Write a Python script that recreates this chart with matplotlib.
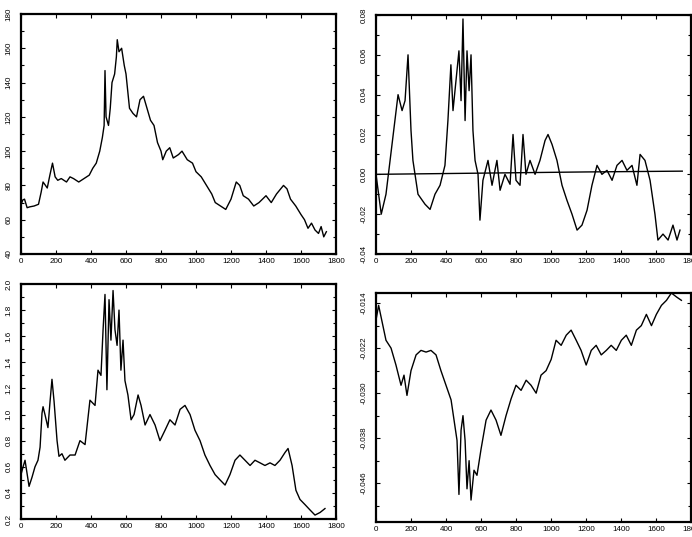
import numpy as np
import matplotlib
matplotlib.use("Agg")
import matplotlib.pyplot as plt
from matplotlib.ticker import MultipleLocator, FormatStrFormatter, FixedLocator

# top-left: level series
tl_x = [0, 10, 20, 35, 50, 75, 100, 115, 126, 140, 150, 165, 180, 195, 210, 230, 260,
        280, 300, 330, 360, 390, 410, 430, 450, 465, 475, 480, 486, 500, 510, 520,
        535, 545, 550, 560, 575, 590, 600, 610, 620, 640, 660, 680, 700, 720, 740,
        760, 780, 800, 810, 830, 850, 870, 900, 920, 950, 980, 1000, 1030, 1060,
        1090, 1110, 1140, 1170, 1200, 1230, 1250, 1270, 1300, 1330, 1360, 1380, 1400,
        1430, 1460, 1500, 1520, 1540, 1570, 1600, 1620, 1640, 1660, 1680, 1700, 1715,
        1730, 1745]
tl_y = [68.6, 71.5, 72, 67, 67.5, 68, 69, 76, 82, 80, 78.5, 86, 93, 85, 83, 84, 82,
        85, 84, 82, 84, 86, 90, 93, 100, 108, 115, 147, 120, 115, 125, 140,
        145, 155, 165, 158, 160, 150, 145, 135, 125, 122, 120, 130, 132, 125, 118,
        115, 105, 100, 95, 100, 102, 96, 98, 100, 95, 93, 88, 85, 80,
        75, 70, 68, 66, 72, 82, 80, 74, 72, 68, 70, 72, 74,
        70, 75, 80, 78, 72, 68, 63, 60, 55, 58, 54, 52, 56,
        50, 53]

# top-right: two series
tr_x = [0, 30, 57, 126, 149, 166, 183, 200, 211, 240, 280, 309, 337, 366, 394, 411,
        428, 440, 457, 474, 486, 497, 509, 520, 532, 543, 554, 566, 583, 594, 611,
        640, 663, 691, 709, 737, 766, 783, 800, 823, 840, 857, 880, 909, 937, 966,
        983, 1006, 1034, 1063, 1091, 1120, 1149, 1177, 1206, 1234, 1263, 1291, 1320,
        1349, 1377, 1406, 1434, 1463, 1491, 1509, 1537, 1566, 1594, 1611, 1640, 1669,
        1697, 1720, 1737]
tr_y = [0.0, -0.02, -0.01, 0.04, 0.032, 0.037, 0.06, 0.022, 0.007, -0.01, -0.015,
        -0.0176, -0.01, -0.0055, 0.0045, 0.027, 0.055, 0.032, 0.047, 0.062, 0.037,
        0.078, 0.027, 0.062, 0.042, 0.06, 0.022, 0.007, 0.0, -0.023, -0.003,
        0.007, -0.0055, 0.007, -0.008, 0.0, -0.005, 0.02, -0.003, -0.0055, 0.02,
        0.0, 0.007, 0.0, 0.007, 0.017, 0.02, 0.015, 0.007, -0.0055, -0.013, -0.02,
        -0.028, -0.0255, -0.018, -0.0055, 0.0045, 0.0, 0.002, -0.003, 0.0045,
        0.007, 0.002, 0.0045, -0.0055, 0.01, 0.007, -0.003, -0.02, -0.033, -0.03,
        -0.033, -0.0255, -0.033, -0.028]
tr_flat_x = [0, 400, 800, 1200, 1750]
tr_flat_y = [0.0, 0.0004, 0.0008, 0.0012, 0.0016]

# bottom-left
bl_x = [0, 12, 23, 46, 63, 80, 97, 109, 120, 126, 137, 154, 166, 177, 189, 206, 217,
        234, 251, 280, 309, 337, 366, 394, 423, 440, 457, 469, 480, 491, 503, 514,
        526, 537, 549, 560, 571, 583, 594, 611, 629, 646, 669, 686, 709, 737, 766,
        794, 823, 851, 880, 909, 937, 966, 994, 1023, 1051, 1080, 1109, 1137, 1166,
        1194, 1223, 1251, 1280, 1309, 1337, 1366, 1394, 1423, 1451, 1480, 1509,
        1526, 1549, 1571, 1594, 1623, 1651, 1680, 1709, 1737]
bl_y = [0.54, 0.6, 0.65, 0.45, 0.52, 0.6, 0.65, 0.75, 1.01, 1.06, 1.0, 0.9, 1.1,
        1.27, 1.1, 0.8, 0.68, 0.7, 0.65, 0.69, 0.69, 0.8, 0.77, 1.11, 1.07, 1.34,
        1.3, 1.65, 1.92, 1.19, 1.88, 1.57, 1.95, 1.65, 1.53, 1.8, 1.34, 1.57, 1.26,
        1.15, 0.96, 1.0, 1.15, 1.07, 0.92, 1.0, 0.92, 0.8, 0.88, 0.96, 0.92, 1.04,
        1.07, 1.0, 0.88, 0.8, 0.69, 0.61, 0.54, 0.5, 0.46, 0.54, 0.65, 0.69, 0.65,
        0.61, 0.65, 0.63, 0.61, 0.63, 0.61, 0.65, 0.71, 0.74, 0.61, 0.42, 0.35,
        0.31, 0.27, 0.23, 0.25, 0.28]

# bottom-right
br_x = [0, 15, 57, 86, 114, 143, 160, 177, 200, 229, 257, 286, 314, 343, 371, 400,
        429, 446, 463, 474, 486, 497, 509, 520, 532, 543, 560, 577, 600, 629, 657,
        686, 714, 743, 772, 800, 829, 858, 886, 915, 943, 972, 1001, 1029, 1058,
        1087, 1115, 1144, 1172, 1201, 1230, 1258, 1287, 1316, 1344, 1373, 1402,
        1430, 1459, 1488, 1516, 1545, 1574, 1602, 1631, 1660, 1688, 1717, 1745]
br_y = [-0.017, -0.0144, -0.0206, -0.022, -0.025, -0.0286, -0.0268, -0.0304, -0.026,
        -0.0232, -0.0224, -0.0227, -0.0224, -0.0232, -0.026, -0.0286, -0.0312,
        -0.0348, -0.0384, -0.048, -0.0366, -0.034, -0.0384, -0.047, -0.042, -0.049,
        -0.0437, -0.0446, -0.040, -0.0348, -0.033, -0.0348, -0.0375, -0.034, -0.031,
        -0.0286, -0.0295, -0.0277, -0.0286, -0.030, -0.0268, -0.026, -0.024,
        -0.0206, -0.0215, -0.0197, -0.0188, -0.0206, -0.0224, -0.025, -0.0224,
        -0.0215, -0.0232, -0.0224, -0.0215, -0.0224, -0.0206, -0.0197, -0.0215,
        -0.0188, -0.018, -0.016, -0.018, -0.016, -0.0144, -0.0135, -0.0122,
        -0.0129, -0.0135]

plt.rcParams["font.family"] = ["Liberation Sans", "DejaVu Sans"]
plt.rcParams["font.size"] = 5.8

fig = plt.figure(figsize=(6.92, 5.37), dpi=100)
W, H = 692.0, 537.0


def make_axes(left, top, right, bottom):
    return fig.add_axes([left / W, 1 - bottom / H, (right - left) / W, (bottom - top) / H])


def style(ax, ylim, major, minor, fmt):
    ax.set_xlim(0, 1800)
    ax.set_ylim(*ylim)
    ax.xaxis.set_major_locator(MultipleLocator(200))
    ax.yaxis.set_major_locator(MultipleLocator(major))
    ax.yaxis.set_minor_locator(MultipleLocator(minor))
    ax.yaxis.set_major_formatter(FormatStrFormatter(fmt))
    ax.tick_params(which="both", direction="in", top=True, right=True, width=0.8)
    ax.tick_params(which="major", length=3)
    ax.tick_params(axis="x", which="major", pad=3)
    ax.tick_params(axis="y", which="major", pad=6)
    ax.tick_params(which="minor", length=2)
    for s in ax.spines.values():
        s.set_linewidth(1.6)


ax1 = make_axes(21, 14, 336, 254)
ax1.plot(tl_x, tl_y, color="black", lw=1.0)
style(ax1, (40, 180), 20, 10, "%d")

ax2 = make_axes(376, 15, 691, 254)
ax2.plot(tr_x, tr_y, color="black", lw=1.0)
ax2.plot(tr_flat_x, tr_flat_y, color="black", lw=1.0)
style(ax2, (-0.04, 0.08), 0.02, 0.01, "%.2f")

ax3 = make_axes(21, 284, 336, 519)
ax3.plot(bl_x, bl_y, color="black", lw=1.0)
style(ax3, (0.2, 2.0), 0.2, 0.1, "%.1f")

ax4 = make_axes(376, 293, 691, 522)
ax4.plot(br_x, br_y, color="black", lw=1.0)
style(ax4, (-0.0529, -0.0122), 0.008, 0.004, "%.3f")
ax4.yaxis.set_major_locator(FixedLocator([-0.046, -0.038, -0.030, -0.022, -0.014]))
ax4.yaxis.set_minor_locator(FixedLocator([-0.050, -0.042, -0.034, -0.026, -0.018]))

for ax in (ax1, ax2, ax3, ax4):
    for lab in ax.get_yticklabels():
        lab.set_rotation(90)
        lab.set_va("center")

fig.savefig("out.png", dpi=100)
